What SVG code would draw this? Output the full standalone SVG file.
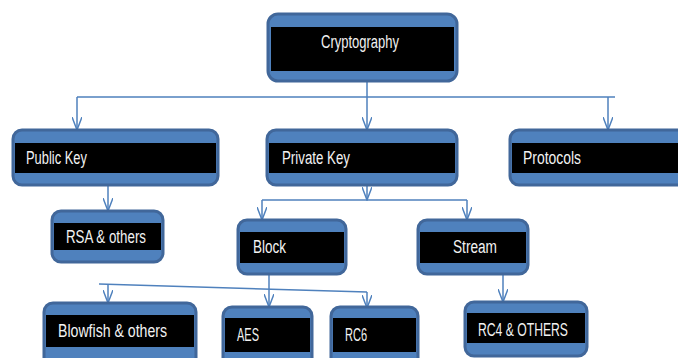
<svg xmlns="http://www.w3.org/2000/svg" width="678" height="358" viewBox="0 0 678 358">
<style>
.box{fill:#4F81BD;stroke:#41679A;stroke-width:3}
.in{fill:#000000}
.t{font-family:"Liberation Sans",Arial,sans-serif;font-size:18px;fill:#F2F2F2}
.c{fill:none;stroke:#4F81BD;stroke-width:1.5}
</style>
<defs>
<marker id="ah" viewBox="0 0 14 10" refX="13" refY="5" markerWidth="14" markerHeight="10" markerUnits="userSpaceOnUse" orient="auto">
<path d="M0,0 L13,5 L0,10" fill="none" stroke="#4F81BD" stroke-width="1.5"/>
</marker>
</defs>
<rect width="678" height="358" fill="#FFFFFF"/>
<g id="connectors">
<path class="c" d="M367,81 V97 M77,97 H615"/>
<path class="c" d="M77,97 V130" marker-end="url(#ah)"/>
<path class="c" d="M367,97 V130" marker-end="url(#ah)"/>
<path class="c" d="M608,97 V130" marker-end="url(#ah)"/>
<path class="c" d="M108,185 V211" marker-end="url(#ah)"/>
<path class="c" d="M367,185 V200" marker-end="url(#ah)"/>
<path class="c" d="M262,200 H467"/>
<path class="c" d="M262,200 V220" marker-end="url(#ah)"/>
<path class="c" d="M467,200 V220" marker-end="url(#ah)"/>
<path class="c" d="M269,274 V307" marker-end="url(#ah)"/>
<path class="c" d="M99,284 L367,292"/>
<path class="c" d="M108,284 V303" marker-end="url(#ah)"/>
<path class="c" d="M367,292 V308" marker-end="url(#ah)"/>
<path class="c" d="M503,274 V302" marker-end="url(#ah)"/>
</g>
<g id="cryptography">
<rect class="box" x="268" y="14" width="189" height="67" rx="10"/>
<rect class="in" x="271" y="27" width="183" height="44"/>
<text class="t" x="321" y="48" textLength="78" lengthAdjust="spacingAndGlyphs">Cryptography</text>
</g>
<g id="public-key">
<rect class="box" x="13" y="130" width="205" height="55" rx="9"/>
<rect class="in" x="15" y="143" width="201" height="30"/>
<text class="t" x="26" y="164" textLength="61" lengthAdjust="spacingAndGlyphs">Public Key</text>
</g>
<g id="private-key">
<rect class="box" x="267" y="130" width="190" height="55" rx="9"/>
<rect class="in" x="269" y="143" width="186" height="30"/>
<text class="t" x="282" y="164" textLength="68" lengthAdjust="spacingAndGlyphs">Private Key</text>
</g>
<g id="protocols">
<rect class="box" x="510" y="130" width="190" height="55" rx="9"/>
<rect class="in" x="512" y="143" width="186" height="30"/>
<text class="t" x="523" y="164" textLength="58" lengthAdjust="spacingAndGlyphs">Protocols</text>
</g>
<g id="rsa">
<rect class="box" x="52" y="211" width="111" height="51" rx="9"/>
<rect class="in" x="54" y="223" width="107" height="27"/>
<text class="t" x="66" y="243" textLength="80" lengthAdjust="spacingAndGlyphs">RSA &amp; others</text>
</g>
<g id="block">
<rect class="box" x="238" y="220" width="108" height="54" rx="9"/>
<rect class="in" x="240" y="232" width="104" height="31"/>
<text class="t" x="253" y="253" textLength="33" lengthAdjust="spacingAndGlyphs">Block</text>
</g>
<g id="stream">
<rect class="box" x="418" y="220" width="110" height="54" rx="9"/>
<rect class="in" x="420" y="232" width="106" height="31"/>
<text class="t" x="453" y="253" textLength="44" lengthAdjust="spacingAndGlyphs">Stream</text>
</g>
<g id="blowfish">
<rect class="box" x="44" y="303" width="152" height="70" rx="9"/>
<rect class="in" x="46" y="315" width="148" height="32"/>
<text class="t" x="58" y="337" textLength="109" lengthAdjust="spacingAndGlyphs">Blowfish &amp; others</text>
</g>
<g id="aes">
<rect class="box" x="223" y="307" width="89" height="70" rx="9"/>
<rect class="in" x="225" y="318" width="85" height="34"/>
<text class="t" x="237" y="341" textLength="22" lengthAdjust="spacingAndGlyphs">AES</text>
</g>
<g id="rc6">
<rect class="box" x="331" y="307" width="87" height="70" rx="9"/>
<rect class="in" x="333" y="318" width="83" height="34"/>
<text class="t" x="345" y="341" textLength="22" lengthAdjust="spacingAndGlyphs">RC6</text>
</g>
<g id="rc4">
<rect class="box" x="465" y="302" width="122" height="54" rx="9"/>
<rect class="in" x="467" y="313" width="118" height="30"/>
<text class="t" x="478" y="336" textLength="90" lengthAdjust="spacingAndGlyphs">RC4 &amp; OTHERS</text>
</g>
</svg>
